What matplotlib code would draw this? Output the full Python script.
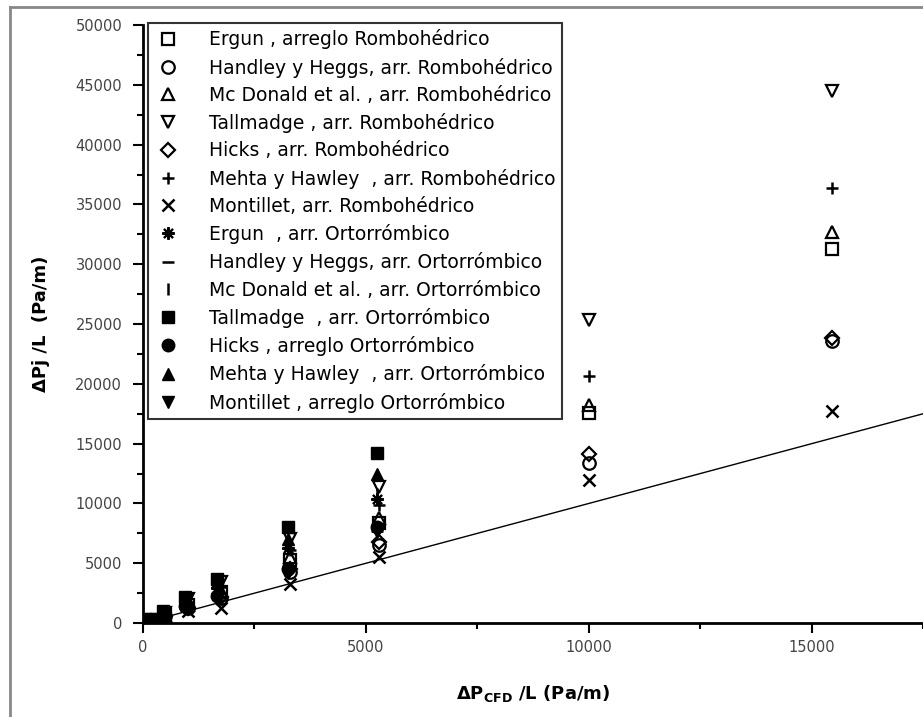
import matplotlib.pyplot as plt
from matplotlib.lines import Line2D

# CFD pressure drop per unit length (x) for each packing
x_romb = [180, 500, 1000, 1750, 3300, 5300, 10000, 15450]
x_orto = [150, 450, 950, 1650, 3250, 5250]

# correlations, rhombohedral packing (Pa/m)
ergun_romb = [200, 650, 1500, 2600, 5300, 8400, 17600, 31300]
handley_romb = [180, 560, 1250, 2100, 4300, 6500, 13400, 23600]
mcdonald_romb = [210, 680, 1550, 2700, 5500, 8800, 18200, 32700]
tallmadge_romb = [270, 850, 2000, 3400, 7000, 11400, 25300, 44500]
hicks_romb = [190, 580, 1300, 2200, 4500, 6800, 14100, 23800]
mehta_romb = [240, 760, 1750, 3000, 6100, 9900, 20700, 36400]
montillet_romb = [150, 470, 1000, 1300, 3300, 5500, 12000, 17700]

# correlations, orthorhombic packing (Pa/m)
ergun_orto = [220, 700, 1700, 2900, 6300, 10400]
handley_orto = [180, 550, 1300, 2200, 4800, 7700]
mcdonald_orto = [230, 720, 1750, 3000, 6500, 10800]
tallmadge_orto = [350, 1000, 2200, 3700, 8000, 14200]
hicks_orto = [190, 600, 1400, 2300, 4500, 8000]
mehta_orto = [300, 900, 2000, 3400, 7000, 12500]
montillet_orto = [170, 520, 1200, 2000, 4200, 7600]

labels = [
    "Ergun , arreglo Rombohédrico",
    "Handley y Heggs, arr. Rombohédrico",
    "Mc Donald et al. , arr. Rombohédrico",
    "Tallmadge , arr. Rombohédrico",
    "Hicks , arr. Rombohédrico",
    "Mehta y Hawley  , arr. Rombohédrico",
    "Montillet, arr. Rombohédrico",
    "Ergun  , arr. Ortorrómbico",
    "Handley y Heggs, arr. Ortorrómbico",
    "Mc Donald et al. , arr. Ortorrómbico",
    "Tallmadge  , arr. Ortorrómbico",
    "Hicks , arreglo Ortorrómbico",
    "Mehta y Hawley  , arr. Ortorrómbico",
    "Montillet , arreglo Ortorrómbico",
]

series = [
    (x_romb, ergun_romb, "s", False),
    (x_romb, handley_romb, "o", False),
    (x_romb, mcdonald_romb, "^", False),
    (x_romb, tallmadge_romb, "v", False),
    (x_romb, hicks_romb, "D", False),
    (x_romb, mehta_romb, "+", True),
    (x_romb, montillet_romb, "x", True),
    (x_orto, ergun_orto, (8, 2, 0), True),
    (x_orto, handley_orto, "_", True),
    (x_orto, mcdonald_orto, "|", True),
    (x_orto, tallmadge_orto, "s", True),
    (x_orto, hicks_orto, "o", True),
    (x_orto, mehta_orto, "^", True),
    (x_orto, montillet_orto, "v", True),
]

fig = plt.figure(figsize=(9.23, 7.17), dpi=100)
ax = fig.add_axes([0.155, 0.131, 0.845, 0.834])

ax.plot([0, 17500], [0, 17500], color="black", lw=1.0, zorder=1)

handles = []
for (xs, ys, m, filled), lab in zip(series, labels):
    size = 9 if m not in ("D",) else 7.5
    if m == (8, 2, 0):
        kw = dict(color="black", markeredgewidth=1.5)
    elif m in ("+", "x", "_", "|"):
        kw = dict(color="black", markeredgewidth=1.8)
    elif filled:
        kw = dict(markerfacecolor="black", markeredgecolor="black")
    else:
        kw = dict(markerfacecolor="none", markeredgecolor="black",
                  markeredgewidth=1.6)
    ax.plot(xs, ys, linestyle="none", marker=m, markersize=size, zorder=3, **kw)
    handles.append(Line2D([], [], linestyle="none", marker=m,
                          markersize=size, label=lab, **kw))

ax.set_xlim(0, 17500)
ax.set_ylim(0, 50000)
ax.set_xticks([0, 5000, 10000, 15000])
ax.set_xticks([2500, 7500, 12500, 17500], minor=True)
ax.set_yticks(range(0, 50001, 5000))
ax.set_yticks(range(2500, 50000, 5000), minor=True)
ax.tick_params(which="both", direction="out", width=1.5, colors="black",
               labelcolor="#444444", labelsize=10.5)
ax.tick_params(which="major", length=7)
ax.tick_params(which="minor", length=4)
ax.tick_params(axis="x", pad=5)
ax.tick_params(axis="y", pad=8)

for side in ("top", "right"):
    ax.spines[side].set_visible(False)
for side in ("left", "bottom"):
    ax.spines[side].set_linewidth(2)

ax.set_xlabel(r"ΔP$_{\mathbf{CFD}}$ /L (Pa/m)", fontsize=13, fontweight="bold",
              labelpad=20)
ax.set_ylabel("ΔPj /L  (Pa/m)", fontsize=13, fontweight="bold", labelpad=18)

leg = ax.legend(handles=handles, loc="upper left",
                bbox_to_anchor=(0.006, 1.004), fontsize=13.5, frameon=True,
                fancybox=False, edgecolor="#333333", framealpha=1,
                borderpad=0.35, labelspacing=0.44, handletextpad=1.4,
                handlelength=1.5, borderaxespad=0)
leg.get_frame().set_linewidth(1.5)

# grey frame around the figure
fig.add_artist(Line2D([0.011, 0.011], [0.0, 0.99], transform=fig.transFigure,
                      color="#888888", lw=2))
fig.add_artist(Line2D([0.011, 1.0], [0.99, 0.99], transform=fig.transFigure,
                      color="#888888", lw=2))

fig.savefig("out.png", dpi=100)
